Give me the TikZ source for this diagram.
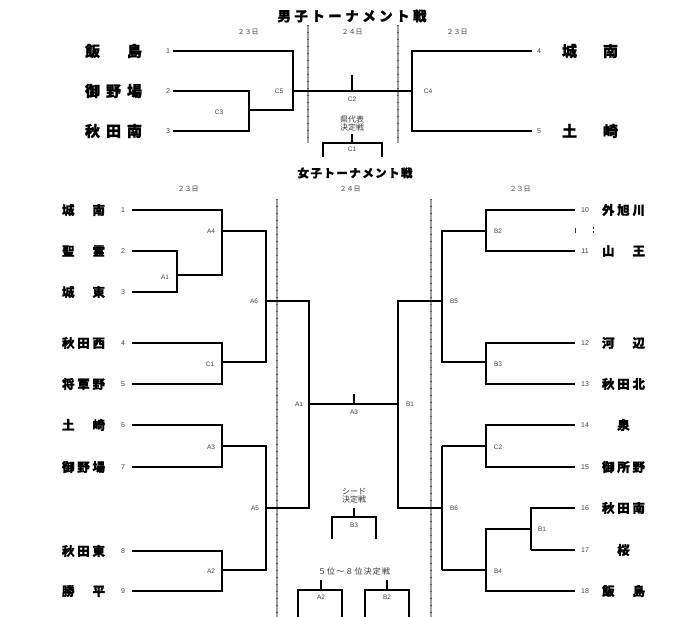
\documentclass[tikz,border=0pt]{standalone}
\usepackage{fontspec}
\setmainfont{Liberation Sans}
\newfontfamily\jp{Noto Sans CJK JP}
\newfontfamily\jpb{Noto Sans CJK JP}[FakeBold=1.2]
\newcommand{\sprd}[2]{\makebox[#1][s]{#2}}
\begin{document}
\begin{tikzpicture}[x=1pt,y=-1pt,
  thk/.style={line width=2.3pt},
  thkv/.style={line width=2.3pt, line cap=rect},
  thn/.style={line width=1.1pt},
  lbl/.style={font=\fontsize{6.5}{7}\selectfont, text=black!75, inner sep=0},
  num/.style={font=\fontsize{7}{8}\selectfont, text=black!75, inner sep=0},
  mname/.style={font=\jpb\bfseries\fontsize{15}{15}\selectfont, inner sep=0},
  wname/.style={font=\jpb\bfseries\fontsize{12.5}{13}\selectfont, inner sep=0},
  datelbl/.style={font=\jp\fontsize{7}{8}\selectfont, text=black!75, inner sep=0},
  smalljp/.style={font=\jp\fontsize{8}{9}\selectfont, text=black!80, inner sep=0, align=center},
  ttl/.style={inner sep=0},
  divbase/.style={draw=gray!75, line width=1.6pt},
  divtick/.style={draw=black!65, line width=1.6pt, dash pattern=on 1pt off 6pt}
]
\path[use as bounding box] (0,0) rectangle (700,616);

% ---------------- Men ----------------
\node[ttl, font=\jpb\bfseries\fontsize{13.5}{14}\selectfont] (mtitle) at (352,16) {\sprd{149pt}{男\hfil 子\hfil ト\hfil ー\hfil ナ\hfil メ\hfil ン\hfil ト\hfil 戦}};
\node[datelbl] (md1) at (248,32) {２３日};
\node[datelbl] (md2) at (352,32) {２４日};
\node[datelbl] (md3) at (457,32) {２３日};

\coordinate (mv1a) at (308,25); \coordinate (mv1b) at (308,143);
\coordinate (mv2a) at (398,25); \coordinate (mv2b) at (398,143);
\draw[divbase] (mv1a) -- (mv1b); \draw[divtick] (mv1a) -- (mv1b);
\draw[divbase] (mv2a) -- (mv2b); \draw[divtick] (mv2a) -- (mv2b);

\node[mname] (mt1) at (113.5,51) {\sprd{57pt}{飯\hfil 島}};
\node[mname] (mt2) at (113.5,91) {\sprd{57pt}{御\hfil 野\hfil 場}};
\node[mname] (mt3) at (113.5,131) {\sprd{57pt}{秋\hfil 田\hfil 南}};
\node[mname] (mt4) at (590,51) {\sprd{56pt}{城\hfil 南}};
\node[mname] (mt5) at (590,131) {\sprd{56pt}{土\hfil 崎}};
\node[num] (mn1) at (168,51) {1};
\node[num] (mn2) at (168,91) {2};
\node[num] (mn3) at (168,131) {3};
\node[num] (mn4) at (539,51) {4};
\node[num] (mn5) at (539,131) {5};

\coordinate (m1) at (173,51); \coordinate (m2) at (173,91); \coordinate (m3) at (173,131);
\coordinate (m4) at (532,51); \coordinate (m5) at (532,131);
\coordinate (jc3) at (249,110); \coordinate (jc5) at (293,91); \coordinate (jc4) at (412,91);
\coordinate (jc2) at (352,91);

\draw[thk] (m2) -- (m2 -| jc3);
\draw[thn] (m3) -- (m3 -| jc3);
\draw[thkv] (m2 -| jc3) -- (m3 -| jc3);
\draw[thk] (jc3) -- (jc3 -| jc5);
\draw[thk] (m1) -- (m1 -| jc5);
\draw[thkv] (m1 -| jc5) -- (jc3 -| jc5);
\draw[thk] (jc5) -- (jc4);
\draw[thk] (jc2) -- ++(0,-16);
\draw[thk] (m4) -- (m4 -| jc4);
\draw[thk] (m5) -- (m5 -| jc4);
\draw[thkv] (m4 -| jc4) -- (m5 -| jc4);

\node[lbl] (lc3) at (219,112) {C3};
\node[lbl] (lc5) at (279,91) {C5};
\node[lbl] (lc2) at (352,99) {C2};
\node[lbl] (lc4) at (428,91) {C4};
\node[smalljp] (mken) at (352,123) {県代表\\[-1pt]決定戦};
\coordinate (jc1) at (352,143);
\draw[thk] (jc1) -- ++(0,-9);
\draw[thk] (jc1) ++(-29,14) |- ++(59,-14) -- ++(0,14);
\node[lbl] (lc1) at (352,149) {C1};

% ---------------- Women ----------------
\node[ttl, font=\jpb\bfseries\fontsize{11.5}{12}\selectfont] (wtitle) at (355,173) {\sprd{115pt}{女\hfil 子\hfil ト\hfil ー\hfil ナ\hfil メ\hfil ン\hfil ト\hfil 戦}};
\node[datelbl] (wd1) at (188,189) {２３日};
\node[datelbl] (wd2) at (350,189) {２４日};
\node[datelbl] (wd3) at (520,189) {２３日};

\coordinate (wv1a) at (277,199); \coordinate (wv1b) at (277,617);
\coordinate (wv2a) at (431,199); \coordinate (wv2b) at (431,617);
\draw[divbase] (wv1a) -- (wv1b); \draw[divtick] (wv1a) -- (wv1b);
\draw[divbase] (wv2a) -- (wv2b); \draw[divtick] (wv2a) -- (wv2b);

% left names
\foreach \i/\y/\t in {1/210/{城\hfil 南},2/251/{聖\hfil 霊},3/292/{城\hfil 東},4/343/{秋\hfil 田\hfil 西},5/384/{将\hfil 軍\hfil 野},6/425/{土\hfil 崎},7/467/{御\hfil 野\hfil 場},8/551/{秋\hfil 田\hfil 東},9/591/{勝\hfil 平}}{
  \node[wname] (wt\i) at (83.5,\y) {\sprd{43pt}{\t}};
  \node[num] (wn\i) at (123,\y) {\i};
  \coordinate (w\i) at (132,\y);
}
% right names
\foreach \i/\y/\t in {10/210/{外\hfil 旭\hfil 川},11/251/{山\hfil 王},12/343/{河\hfil 辺},13/384/{秋\hfil 田\hfil 北},15/467/{御\hfil 所\hfil 野},16/508/{秋\hfil 田\hfil 南},18/591/{飯\hfil 島}}{
  \node[wname] (et\i) at (623.5,\y) {\sprd{43pt}{\t}};
}
\node[wname] (et14) at (623.5,425) {泉};
\node[wname] (et17) at (623.5,550) {桜};
\foreach \i/\y in {10/210,11/251,12/343,13/384,14/425,15/467,16/508,17/550,18/591}{
  \node[num] (en\i) at (585,\y) {\i};
  \coordinate (e\i) at (575,\y);
}

% junctions
\coordinate (ja1) at (177,275); \coordinate (ja4) at (222,231); \coordinate (jwc1) at (222,362);
\coordinate (ja6) at (266,301); \coordinate (ja3) at (222,446); \coordinate (ja2) at (222,570);
\coordinate (ja5) at (266,508); \coordinate (jfa) at (309,404); \coordinate (jfb) at (398,404);
\coordinate (jfc) at (354,404);
\coordinate (jb2) at (486,231); \coordinate (jb3) at (486,362); \coordinate (jb5) at (442,301);
\coordinate (jwc2) at (486,446); \coordinate (jb1) at (531,529); \coordinate (jb4) at (486,570);
\coordinate (jb6) at (442,508);

% A1
\draw[thn] (w2) -- (w2 -| ja1);
\draw[thk] (w3) -- (w3 -| ja1);
\draw[thkv] (w2 -| ja1) -- (w3 -| ja1);
\draw[thn] (ja1) -- (ja1 -| ja4);
% A4
\draw[thk] (w1) -- (w1 -| ja4);
\draw[thkv] (w1 -| ja4) -- (ja1 -| ja4);
\draw[thk] (ja4) -- (ja4 -| ja6);
% C1
\draw[thk] (w4) -- (w4 -| jwc1);
\draw[thk] (w5) -- (w5 -| jwc1);
\draw[thkv] (w4 -| jwc1) -- (w5 -| jwc1);
\draw[thk] (jwc1) -- (jwc1 -| ja6);
% A6
\draw[thkv] (ja4 -| ja6) -- (jwc1 -| ja6);
\draw[thn] (ja6) -- (ja6 -| jfa);
% A3
\draw[thn] (w6) -- (w6 -| ja3);
\draw[thk] (w7) -- (w7 -| ja3);
\draw[thkv] (w6 -| ja3) -- (w7 -| ja3);
\draw[thn] (ja3) -- (ja3 -| ja5);
% A2
\draw[thn] (w8) -- (w8 -| ja2);
\draw[thk] (w9) -- (w9 -| ja2);
\draw[thkv] (w8 -| ja2) -- (w9 -| ja2);
\draw[thk] (ja2) -- (ja2 -| ja5);
% A5
\draw[thkv] (ja3 -| ja5) -- (ja2 -| ja5);
\draw[thk] (ja5) -- (ja5 -| jfa);
% final
\draw[thkv] (ja6 -| jfa) -- (ja5 -| jfa);
\draw[thkv] (jb5 -| jfb) -- (jb6 -| jfb);
\draw[thk] (jfa) -- (jfb);
\draw[thk] (jfc) -- ++(0,-10);
% B2
\draw[thk] (e10) -- (e10 -| jb2);
\draw[thn] (e11) -- (e11 -| jb2);
\draw[thkv] (e10 -| jb2) -- (e11 -| jb2);
\draw[thk] (jb2) -- (jb2 -| jb5);
% B3
\draw[thk] (e12) -- (e12 -| jb3);
\draw[thk] (e13) -- (e13 -| jb3);
\draw[thkv] (e12 -| jb3) -- (e13 -| jb3);
\draw[thk] (jb3) -- (jb3 -| jb5);
% B5
\draw[thkv] (jb2 -| jb5) -- (jb3 -| jb5);
\draw[thn] (jb5) -- (jb5 -| jfb);
% C2
\draw[thn] (e14) -- (e14 -| jwc2);
\draw[thk] (e15) -- (e15 -| jwc2);
\draw[thkv] (e14 -| jwc2) -- (e15 -| jwc2);
\draw[thn] (jwc2) -- (jwc2 -| jb6);
% B1
\draw[thk] (e16) -- (e16 -| jb1);
\draw[thn] (e17) -- (e17 -| jb1);
\draw[thkv] (e16 -| jb1) -- (jb1);
\draw[thn] (jb1) -- (e17 -| jb1);
\draw[thk] (jb1) -- (jb1 -| jb4);
% B4
\draw[thkv] (jb1 -| jb4) -- (e18 -| jb4);
\draw[thk] (e18) -- (e18 -| jb4);
\draw[thn] (jb4) -- (jb4 -| jb6);
% B6
\draw[thn] (jwc2 -| jb6) -- (jb4 -| jb6);
\draw[thk] (jb6) -- (jb6 -| jfb);

% labels
\node[lbl] (la1) at (165,277) {A1};
\node[lbl] (la4) at (211,231) {A4};
\node[lbl] (lwc1) at (210,364) {C1};
\node[lbl] (la6) at (254,301) {A6};
\node[lbl] (la3) at (211,447) {A3};
\node[lbl] (la2) at (211,571) {A2};
\node[lbl] (la5) at (255,508) {A5};
\node[lbl] (lfa) at (299,404) {A1};
\node[lbl] (lfc) at (354,412) {A3};
\node[lbl] (lfb) at (410,404) {B1};
\node[lbl] (lb2) at (498,231) {B2};
\node[lbl] (lb3) at (498,364) {B3};
\node[lbl] (lb5) at (454,301) {B5};
\node[lbl] (lwc2) at (498,447) {C2};
\node[lbl] (lb1) at (542,529) {B1};
\node[lbl] (lb4) at (498,571) {B4};
\node[lbl] (lb6) at (454,508) {B6};

% stray marks
\fill[black!80] (574.5,228) rectangle (575.6,233);
\fill[black!80] (593,226.5) rectangle (594.3,228.5);
\fill[black!80] (593,230.5) rectangle (594.3,232.5);

% center lower
\node[smalljp] (sd) at (354,496) {シード\\[-1pt]決定戦};
\coordinate (jsb3) at (354,517);
\draw[thk] (jsb3) -- ++(0,-9);
\draw[thk] (jsb3) ++(-22,22) |- ++(44,-22) -- ++(0,22);
\node[lbl] (lsb3) at (354,525) {B3};
\node[smalljp] (r58) at (354,571) {\sprd{72pt}{５\hfil 位\hfil ～\hfil ８\hfil 位\hfil 決\hfil 定\hfil 戦}};
\coordinate (jla2) at (321,590);
\draw[thk] (jla2) -- ++(0,-10);
\draw[thk] (jla2) ++(-23,27) |- ++(44,-27) -- ++(0,27);
\node[lbl] (lla2) at (321,597) {A2};
\coordinate (jlb2) at (387,590);
\draw[thk] (jlb2) -- ++(0,-10);
\draw[thk] (jlb2) ++(-22,27) |- ++(44,-27) -- ++(0,27);
\node[lbl] (llb2) at (387,597) {B2};
\end{tikzpicture}
\end{document}
